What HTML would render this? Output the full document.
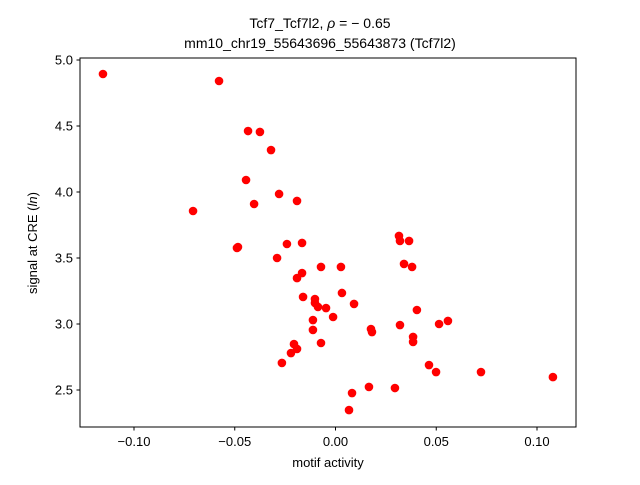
<!DOCTYPE html>
<html><head><meta charset="utf-8"><style>
body{margin:0;background:#fff}
svg text{font-family:"Liberation Sans","DejaVu Sans",sans-serif;fill:#000}
</style></head><body>
<svg id="chart" width="640" height="480">
<rect width="640" height="480" fill="#fff"/>
<text x="320" y="28" font-size="14" text-anchor="middle">Tcf7_Tcf7l2, <tspan font-style="italic">ρ</tspan> = − 0.65</text>
<text x="320" y="48" font-size="14" text-anchor="middle">mm10_chr19_55643696_55643873 (Tcf7l2)</text>
<g id="marks"></g>
<rect x="80" y="58" width="496" height="369" fill="none" stroke="#000" stroke-width="1"/>
<g id="axes"></g>
<text x="328" y="467" font-size="13" text-anchor="middle">motif activity</text>
<text transform="translate(37,243) rotate(-90)" font-size="13" text-anchor="middle">signal at CRE (<tspan font-style="italic">ln</tspan>)</text>
</svg>
<script>
const xVals=[-0.1154,-0.0578,-0.0434,-0.0375,-0.0320,-0.0444,-0.0707,-0.0404,-0.0280,-0.0191,-0.0484,-0.0489,-0.0241,-0.0166,-0.0290,-0.0072,-0.0166,-0.0191,0.0027,-0.0161,-0.0102,-0.0102,-0.0087,-0.0047,-0.0012,0.0032,0.0092,-0.0112,-0.0112,-0.0072,-0.0206,-0.0191,-0.0221,-0.0266,0.0176,0.0181,0.0315,0.0320,0.0365,0.0340,0.0380,0.0320,0.0404,0.0385,0.0385,0.0514,0.0464,0.0499,0.0067,0.0166,0.0295,0.0082,0.0722,0.1079,0.0558];
const yVals=[4.894,4.841,4.462,4.455,4.318,4.091,3.856,3.909,3.985,3.932,3.583,3.576,3.606,3.614,3.5,3.432,3.386,3.348,3.432,3.205,3.189,3.159,3.129,3.121,3.053,3.235,3.152,3.030,2.955,2.856,2.848,2.811,2.780,2.705,2.962,2.939,3.667,3.629,3.629,3.455,3.432,2.992,3.106,2.902,2.864,3.0,2.689,2.636,2.348,2.523,2.515,2.477,2.636,2.598,3.023];
const xTicks=[-0.10,-0.05,0.00,0.05,0.10];
const xTickLabels=["−0.10","−0.05","0.00","0.05","0.10"];
const yTicks=[2.5,3.0,3.5,4.0,4.5,5.0];
const yTickLabels=["2.5","3.0","3.5","4.0","4.5","5.0"];
const NS="http://www.w3.org/2000/svg";
const X=v=>335.5+v*2015;
const Y=v=>60+(5.0-v)*132;
const marks=document.getElementById('marks');
for(let i=0;i<xVals.length;i++){
  const c=document.createElementNS(NS,'circle');
  c.setAttribute('cx',X(xVals[i]));c.setAttribute('cy',Y(yVals[i]));c.setAttribute('r',4.3);c.setAttribute('fill','#ff0000');
  
  
  marks.appendChild(c);
}
const axes=document.getElementById('axes');
xTicks.forEach((t,i)=>{
  const l=document.createElementNS(NS,'line');
  l.setAttribute('x1',X(t));l.setAttribute('x2',X(t));l.setAttribute('y1',427);l.setAttribute('y2',430.5);l.setAttribute('stroke','#000');
  
  
  axes.appendChild(l);
  const tx=document.createElementNS(NS,'text');
  tx.setAttribute('x',X(t));tx.setAttribute('y',446);tx.setAttribute('font-size','13');tx.setAttribute('text-anchor','middle');
  tx.textContent=xTickLabels[i];
  
  
  axes.appendChild(tx);
});
yTicks.forEach((t,i)=>{
  const l=document.createElementNS(NS,'line');
  l.setAttribute('x1',76.5);l.setAttribute('x2',80);l.setAttribute('y1',Y(t));l.setAttribute('y2',Y(t));l.setAttribute('stroke','#000');
  
  
  axes.appendChild(l);
  const tx=document.createElementNS(NS,'text');
  tx.setAttribute('x',73);tx.setAttribute('y',Y(t)+4.5);tx.setAttribute('font-size','13');tx.setAttribute('text-anchor','end');
  tx.textContent=yTickLabels[i];
  
  
  axes.appendChild(tx);
});
</script>
</body></html>
